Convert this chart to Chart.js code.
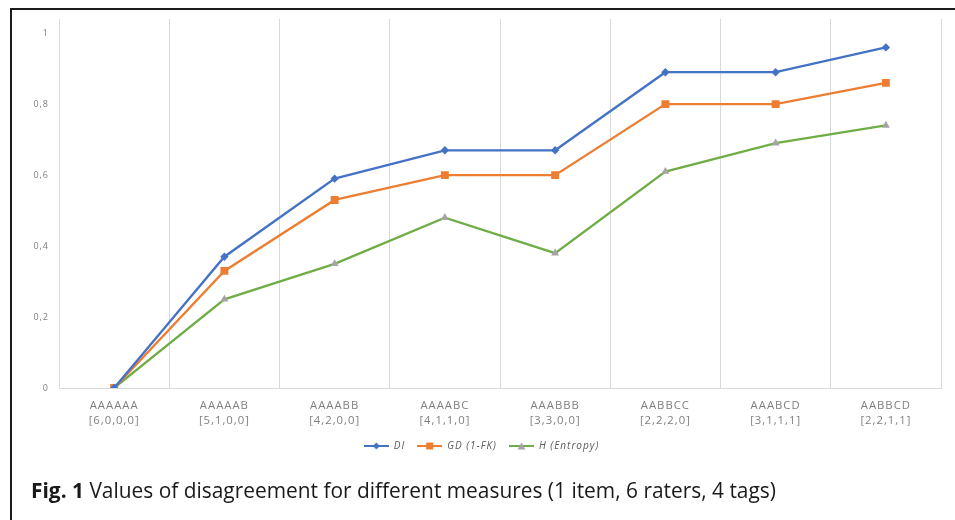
<!DOCTYPE html>
<html>
<head>
<meta charset="utf-8">
<script src="https://cdn.jsdelivr.net/npm/chart.js@4/dist/chart.umd.min.js"></script>
<style>
  html, body { margin: 0; padding: 0; background: #fff; width: 955px; height: 520px; overflow: hidden; }
  #wrap { position: absolute; left: 0; top: 0; width: 955px; height: 470px; }
  #frame { position: absolute; left: 10px; top: 8px; right: 0; bottom: 0;
           border-top: 2px solid #1b1b1b; border-left: 2px solid #1b1b1b; pointer-events: none; }
  #caption { position: absolute; left: 31px; top: 476px; font-family: "Open Sans", sans-serif;
             font-size: 20.9px; color: #1a1a1a; white-space: nowrap; }
</style>
</head>
<body>
<div id="wrap"><canvas id="c" width="955" height="470"></canvas></div>
<div id="frame"></div>
<div id="caption"><b>Fig. 1</b> Values of disagreement for different measures (1 item, 6 raters, 4 tags)</div>
<script>
// Rating patterns (6 raters, 4 tags) and their tag counts
const patterns = ['AAAAAA', 'AAAAAB', 'AAAABB', 'AAAABC', 'AAABBB', 'AABBCC', 'AAABCD', 'AABBCD'];
const counts   = ['[6,0,0,0]', '[5,1,0,0]', '[4,2,0,0]', '[4,1,1,0]', '[3,3,0,0]', '[2,2,2,0]', '[3,1,1,1]', '[2,2,1,1]'];

// Disagreement values per measure
const diValues = [0, 0.37, 0.59, 0.67, 0.67, 0.89, 0.89, 0.96];
const gdValues = [0, 0.33, 0.53, 0.60, 0.60, 0.80, 0.80, 0.86];
const hValues  = [0, 0.25, 0.35, 0.48, 0.38, 0.61, 0.69, 0.74];

// Value axis ticks
const yTickValues = [0, 0.2, 0.4, 0.6, 0.8, 1];
const yTickLabels = ['0', '0,2', '0,4', '0,6', '0,8', '1'];

const FONT = '"Open Sans", sans-serif';

// Small legend swatch: line segment with the series marker in the middle
function swatch(lineColor, markerColor, shape) {
  const cv = document.createElement('canvas');
  cv.width = 25; cv.height = 10;
  const g = cv.getContext('2d');
  g.strokeStyle = lineColor; g.lineWidth = 2;
  g.beginPath(); g.moveTo(0, 5); g.lineTo(25, 5); g.stroke();
  g.fillStyle = markerColor;
  g.beginPath();
  if (shape === 'diamond') { g.moveTo(12.5, 1.5); g.lineTo(16, 5); g.lineTo(12.5, 8.5); g.lineTo(9, 5); }
  else if (shape === 'square') { g.rect(9, 1.5, 7, 7); }
  else { g.moveTo(12.5, 1.5); g.lineTo(16.5, 8.5); g.lineTo(8.5, 8.5); }
  g.closePath(); g.fill();
  return cv;
}

const series = [
  { label: 'DI',          data: diValues, line: '#4472C4', marker: '#4472C4', style: 'rectRot',  radius: 4.2, shape: 'diamond' },
  { label: 'GD (1-FK)',   data: gdValues, line: '#ED7D31', marker: '#ED7D31', style: 'rect',     radius: 5.6, shape: 'square' },
  { label: 'H (Entropy)', data: hValues,  line: '#70AD47', marker: '#A5A5A5', style: 'triangle', radius: 4.6, shape: 'triangle' }
];

const spacing = {
  id: 'spacing',
  beforeDraw(chart) { chart.ctx.letterSpacing = '1px'; }
};

new Chart(document.getElementById('c'), {
  type: 'line',
  data: {
    labels: patterns.map((p, i) => [p, counts[i]]),
    datasets: series.map(s => ({
      label: s.label,
      data: s.data,
      borderColor: s.line,
      backgroundColor: s.marker,
      borderWidth: 2.3,
      pointStyle: s.style,
      pointRadius: s.radius,
      pointBackgroundColor: s.marker,
      pointBorderColor: s.marker,
      pointBorderWidth: 0,
      tension: 0,
      fill: false
    }))
  },
  options: {
    responsive: false,
    animation: false,
    layout: { padding: { left: 0, top: 19, right: 14, bottom: 9 } },
    scales: {
      x: {
        offset: true,
        grid: { display: true, offset: true, color: '#d9d9d9', lineWidth: 1, drawTicks: false },
        border: { display: true, color: '#d9d9d9', width: 1 },
        ticks: { color: '#7f7f7f', padding: 10, maxRotation: 0, autoSkip: false,
                 font: { family: FONT, size: 11.3, lineHeight: 1.33 } },
        afterFit(scale) { scale.height = 41; }
      },
      y: {
        min: 0, max: 1.04,
        grid: { display: false, drawTicks: false },
        border: { display: false },
        afterBuildTicks(scale) { scale.ticks = yTickValues.map(v => ({ value: v })); },
        ticks: { color: '#7f7f7f', padding: 10,
                 font: { family: FONT, size: 9 },
                 callback(v) { return yTickLabels[yTickValues.indexOf(v)]; } },
        afterFit(scale) { scale.width = 59; }
      }
    },
    plugins: {
      legend: {
        position: 'bottom',
        labels: {
          usePointStyle: true,
          pointStyleWidth: 25,
          padding: 12,
          color: '#595959',
          font: { family: FONT, size: 10, style: 'italic' },
          generateLabels() {
            return series.map((s, i) => ({
              text: s.label,
              pointStyle: swatch(s.line, s.marker, s.shape),
              fontColor: '#595959',
              datasetIndex: i,
              hidden: false,
              lineWidth: 0
            }));
          }
        }
      },
      tooltip: { enabled: false }
    }
  },
  plugins: [spacing]
});
</script>
</body>
</html>
